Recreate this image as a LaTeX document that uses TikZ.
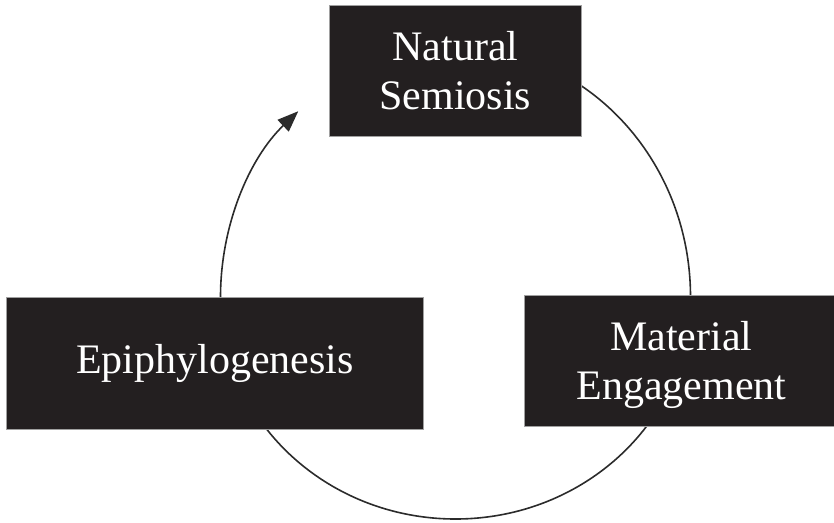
\documentclass[tikz,border=0pt]{standalone}
\usepackage{fontspec}
\setmainfont{Liberation Serif}
\usetikzlibrary{arrows.meta}
\definecolor{boxfill}{HTML}{231F20}
\definecolor{boxedge}{HTML}{A0A0A0}
\definecolor{linecol}{HTML}{2B2B2B}
\begin{document}
\begin{tikzpicture}[x=1pt,y=-1pt,
  box/.style={fill=boxfill, draw=boxedge, line width=0.7pt, text=white,
    font=\fontsize{42}{49}\selectfont, align=center, inner sep=0pt, anchor=north west},
  cyc/.style={draw=linecol, line width=1.6pt}]
\useasboundingbox (0,0) rectangle (834,522);
\coordinate (c) at (455.5,297);
% cycle arcs (behind the boxes)
\draw[cyc] ([xshift=-235pt]c) arc[start angle=180, end angle=360, x radius=235pt, y radius=222pt];
\draw[cyc] ([yshift=250pt]c) arc[start angle=90, end angle=0, x radius=235pt, y radius=250pt];
\draw[cyc, -{Triangle[length=21pt, width=16pt]}] ([xshift=-235pt]c) arc[start angle=180, end angle=132, x radius=235pt, y radius=250pt];
% boxes
\node[box, minimum width=252pt, minimum height=131pt] (ns) at (329,5) {Natural\\Semiosis};
\node[box, minimum width=314pt, minimum height=131pt, text depth=0pt] (me) at (524,295) {Material\\Engagement};
\node[box, minimum width=417pt, minimum height=132pt] (ep) at (6,297) {Epiphylogenesis};
\end{tikzpicture}
\end{document}
